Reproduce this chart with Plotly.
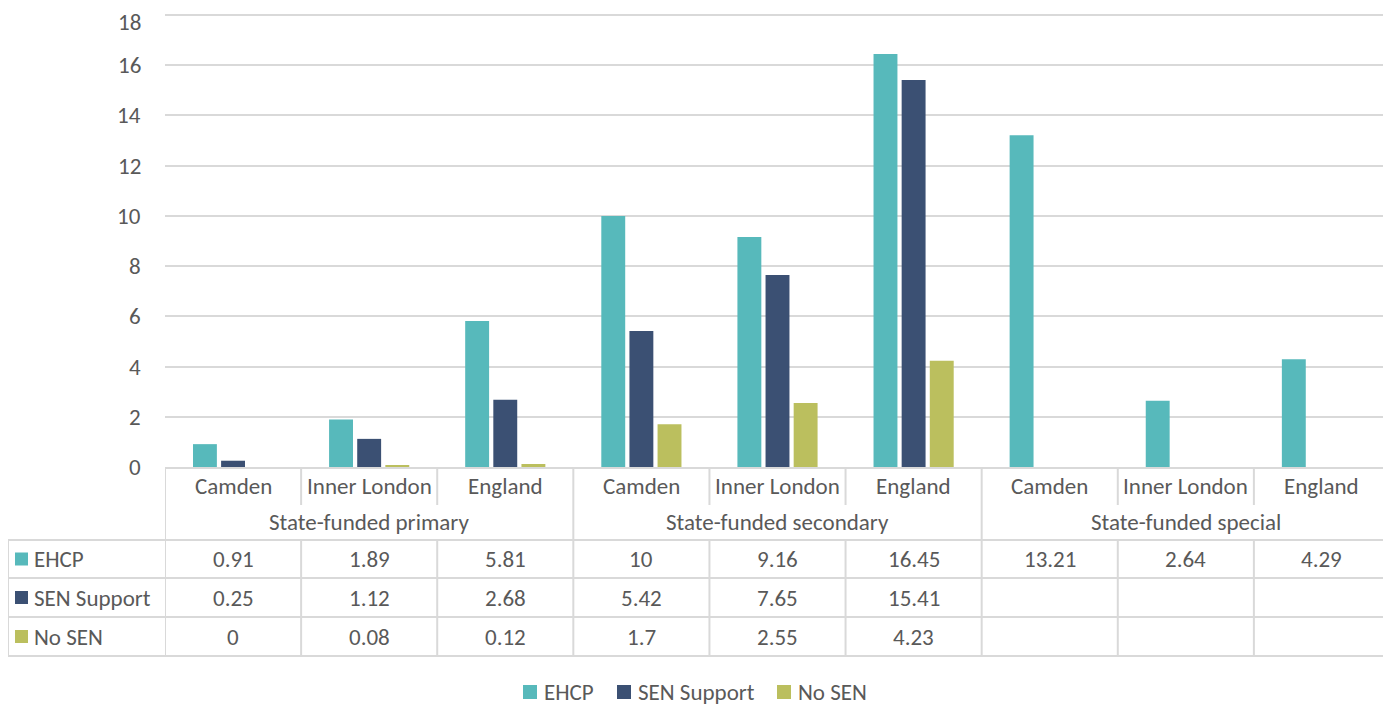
import plotly.graph_objects as go

# ---- data ----
groups = ["State-funded primary", "State-funded secondary", "State-funded special"]
areas = ["Camden", "Inner London", "England"]
series_names = ["EHCP", "SEN Support", "No SEN"]
ehcp = [0.91, 1.89, 5.81, 10, 9.16, 16.45, 13.21, 2.64, 4.29]
sen_support = [0.25, 1.12, 2.68, 5.42, 7.65, 15.41, None, None, None]
no_sen = [0, 0.08, 0.12, 1.7, 2.55, 4.23, None, None, None]
y_ticks = [0, 2, 4, 6, 8, 10, 12, 14, 16, 18]

colors = ["#57B9BB", "#3B5073", "#BBBF5E"]
series = [ehcp, sen_support, no_sen]
FONT = "Carlito, Calibri, Lato, sans-serif"
FS = 23
TXT = "#595959"
LINE = "#D9D9D9"
W, H = 1391, 704
OFF = 8  # page body margin offset

def px(x):
    return (x - OFF) / W

def py(y):
    return 1 - (y - OFF) / H

cats = list(range(len(groups) * len(areas)))
cat_labels = [a for g in groups for a in areas]

fig = go.Figure()
for name, vals, col in zip(series_names, series, colors):
    fig.add_trace(go.Bar(x=cats, y=vals, name=name, showlegend=False,
                         marker=dict(color=col, line=dict(width=0))))

shapes = []
annos = []

# table geometry (target pixels)
y_axis0 = 467
y_top = 15
y_cat_bottom = 505
y_rows = [540, 578, 617, 656]
x_left = 8
x_plot_left = 165
x_right = 1390
y_max = 18.05
ppu = (y_axis0 - y_top) / 18.0
y_dom_top = y_axis0 - ppu * y_max

# y tick labels (as annotations on the y scale; top one nudged to stay inside the page)
for t in y_ticks:
    annos.append(dict(x=px(143), y=t, xref="paper", yref="y", text=str(t), showarrow=False,
                      font=dict(family=FONT, size=FS, color=TXT), xanchor="right", yanchor="middle",
                      yshift=(-7 if t == y_ticks[-1] else 0)))

for i in range(len(cats) + 1):
    xv = i - 0.5
    is_group_edge = (i % len(areas) == 0)
    if not is_group_edge:
        shapes.append(dict(type="line", xref="x", yref="paper", x0=xv, x1=xv,
                           y0=py(y_axis0), y1=py(y_cat_bottom), line=dict(color=LINE, width=2)))
        shapes.append(dict(type="line", xref="x", yref="paper", x0=xv, x1=xv,
                           y0=py(y_rows[0]), y1=py(y_rows[-1]), line=dict(color=LINE, width=2)))
    else:
        shapes.append(dict(type="line", xref="x", yref="paper", x0=xv, x1=xv,
                           y0=py(y_axis0), y1=py(y_rows[-1]), line=dict(color=LINE, width=2)))

shapes.append(dict(type="line", xref="paper", yref="paper", x0=px(x_left), x1=px(x_left),
                   y0=py(y_rows[0]), y1=py(y_rows[-1]), line=dict(color=LINE, width=2)))
for yr in y_rows:
    shapes.append(dict(type="line", xref="paper", yref="paper", x0=px(x_left), x1=px(x_right),
                       y0=py(yr), y1=py(yr), line=dict(color=LINE, width=2)))

for c, lab in zip(cats, cat_labels):
    annos.append(dict(x=c, y=py(486), xref="x", yref="paper", text=lab, showarrow=False,
                      font=dict(family=FONT, size=FS, color=TXT), xanchor="center", yanchor="middle"))
for gi, g in enumerate(groups):
    annos.append(dict(x=gi * len(areas) + 1, y=py(522), xref="x", yref="paper", text=g, showarrow=False,
                      font=dict(family=FONT, size=FS, color=TXT), xanchor="center", yanchor="middle"))

for ri, (name, vals, col) in enumerate(zip(series_names, series, colors)):
    yc = (y_rows[ri] + y_rows[ri + 1]) / 2
    shapes.append(dict(type="rect", xref="paper", yref="paper", x0=px(15), x1=px(28),
                       y0=py(yc - 6.5), y1=py(yc + 6.5), fillcolor=col, line=dict(width=0)))
    annos.append(dict(x=px(32), y=py(yc), xref="paper", yref="paper", text=name, showarrow=False,
                      font=dict(family=FONT, size=FS, color=TXT), xanchor="left", yanchor="middle"))
    for c, v in zip(cats, vals):
        if v is None:
            continue
        annos.append(dict(x=c, y=py(yc), xref="x", yref="paper", text=f"{v:g}", showarrow=False,
                          font=dict(family=FONT, size=FS, color=TXT), xanchor="center", yanchor="middle"))

# bottom legend (manual, to match spacing)
legend_x = [523, 617, 777]
legend_y = 692
for name, col, lx in zip(series_names, colors, legend_x):
    shapes.append(dict(type="rect", xref="paper", yref="paper", x0=px(lx), x1=px(lx + 14),
                       y0=py(legend_y - 7), y1=py(legend_y + 7), fillcolor=col, line=dict(width=0)))
    annos.append(dict(x=px(lx + 19), y=py(legend_y), xref="paper", yref="paper", text=name,
                      showarrow=False, font=dict(family=FONT, size=FS, color=TXT),
                      xanchor="left", yanchor="middle"))

fig.update_layout(
    width=W, height=H,
    margin=dict(l=0, r=0, t=0, b=0),
    paper_bgcolor="white", plot_bgcolor="white",
    barmode="group", bargap=0.38, bargroupgap=0.15,
    font=dict(family=FONT, size=FS, color=TXT),
    showlegend=False,
    xaxis=dict(domain=[px(x_plot_left), px(x_right)], range=[-0.5, len(cats) - 0.5],
               showticklabels=False, showgrid=False, zeroline=False,
               showline=True, linecolor=LINE, linewidth=2, fixedrange=True),
    yaxis=dict(domain=[py(y_axis0), py(y_dom_top)], range=[0, y_max], tickvals=y_ticks,
               showgrid=True, gridcolor=LINE, gridwidth=1.5, zeroline=False,
               showline=False, ticks="", showticklabels=False, automargin=False),
    shapes=shapes, annotations=annos,
)

fig.write_html("out.html")
